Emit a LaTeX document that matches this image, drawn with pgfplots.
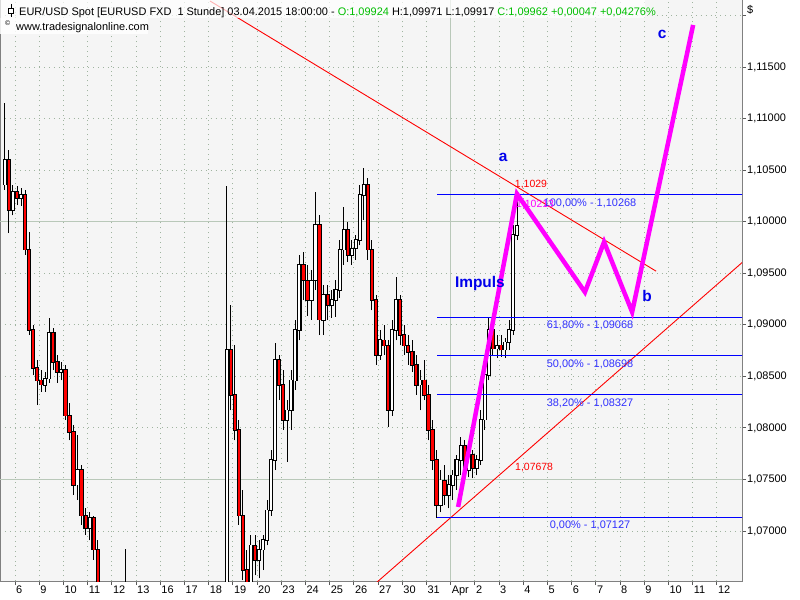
\documentclass[border=0pt]{standalone}
\usepackage{pgfplots}
\pgfplotsset{compat=1.18}
\usepackage{pgfplotstable}
\usepackage{fontspec}
\setmainfont{Liberation Sans}

\definecolor{bg}{RGB}{245,245,245}
\definecolor{gridc}{RGB}{160,180,160}
\definecolor{gridsolid}{RGB}{185,200,185}
\definecolor{fibline}{RGB}{0,0,255}
\definecolor{fibtxt}{RGB}{50,50,255}
\definecolor{wave}{RGB}{255,0,255}
\definecolor{hdrgreen}{RGB}{0,190,0}
\definecolor{lblblue}{RGB}{0,0,235}
\newcommand\fs[1]{\fontsize{#1}{#1}\selectfont}

% 4h candles, x = trading day index (0 = 6 Mar), prices EUR/USD
\pgfplotstableread{
t o h l c
-0.417 1.1036 1.1115 1.1031 1.1060
-0.250 1.1060 1.1070 1.0989 1.1011
-0.083 1.1011 1.1036 1.1006 1.1029
0.083 1.1029 1.1035 1.1016 1.1023
0.250 1.1023 1.1033 1.1015 1.1026
0.417 1.1026 1.1031 1.0968 1.0973
0.583 1.0973 1.0990 1.0890 1.0895
0.750 1.0895 1.0900 1.0851 1.0858
0.917 1.0858 1.0866 1.0822 1.0846
1.083 1.0846 1.0856 1.0835 1.0842
1.250 1.0842 1.0854 1.0835 1.0848
1.417 1.0848 1.0907 1.0844 1.0892
1.583 1.0892 1.0897 1.0856 1.0864
1.750 1.0864 1.0871 1.0844 1.0854
1.917 1.0854 1.0864 1.0846 1.0856
2.083 1.0856 1.0861 1.0808 1.0812
2.250 1.0812 1.0824 1.0788 1.0796
2.417 1.0796 1.0803 1.0735 1.0745
2.583 1.0745 1.0793 1.0730 1.0759
2.750 1.0759 1.0764 1.0706 1.0715
2.917 1.0715 1.0722 1.0696 1.0703
3.083 1.0703 1.0718 1.0691 1.0713
3.250 1.0713 1.0715 1.0672 1.0682
3.417 1.0682 1.0691 1.0633 1.0638
3.583 1.0638 1.0643 1.0594 1.0604
3.750 1.0604 1.0614 1.0555 1.0565
3.917 1.0565 1.0594 1.0546 1.0575
4.083 1.0575 1.0594 1.0536 1.0555
4.250 1.0555 1.0585 1.0536 1.0575
4.417 1.0575 1.0633 1.0565 1.0623
4.583 1.0623 1.0683 1.0614 1.0633
4.750 1.0633 1.0643 1.0604 1.0614
4.917 1.0614 1.0623 1.0594 1.0604
5.083 1.0604 1.0614 1.0575 1.0585
5.250 1.0585 1.0594 1.0546 1.0555
5.417 1.0555 1.0565 1.0517 1.0526
5.583 1.0526 1.0536 1.0468 1.0478
5.750 1.0478 1.0497 1.0458 1.0488
5.917 1.0488 1.0507 1.0478 1.0497
6.083 1.0497 1.0517 1.0488 1.0507
6.250 1.0507 1.0536 1.0502 1.0531
6.417 1.0531 1.0555 1.0526 1.0551
6.583 1.0551 1.0575 1.0536 1.0565
6.750 1.0565 1.0585 1.0546 1.0555
6.917 1.0555 1.0575 1.0546 1.0565
7.083 1.0565 1.0585 1.0555 1.0575
7.250 1.0575 1.0594 1.0546 1.0555
7.417 1.0555 1.0575 1.0536 1.0546
7.583 1.0546 1.0585 1.0536 1.0575
7.750 1.0575 1.0594 1.0565 1.0585
7.917 1.0585 1.0604 1.0575 1.0594
8.083 1.0594 1.0604 1.0575 1.0585
8.250 1.0585 1.0599 1.0570 1.0589
8.417 1.0589 1.0614 1.0575 1.0604
8.583 1.0604 1.0633 1.0594 1.0623
8.750 1.0623 1.1035 1.0614 1.0876
8.917 1.0876 1.0919 1.0817 1.0832
9.083 1.0832 1.0880 1.0788 1.0798
9.250 1.0798 1.0808 1.0706 1.0715
9.417 1.0715 1.0740 1.0652 1.0662
9.583 1.0662 1.0682 1.0633 1.0648
9.750 1.0648 1.0696 1.0643 1.0686
9.917 1.0686 1.0696 1.0657 1.0672
10.083 1.0672 1.0691 1.0654 1.0682
10.250 1.0682 1.0696 1.0662 1.0691
10.417 1.0691 1.0730 1.0686 1.0720
10.583 1.0720 1.0779 1.0715 1.0769
10.750 1.0769 1.0882 1.0759 1.0866
10.917 1.0866 1.0871 1.0827 1.0842
11.083 1.0842 1.0856 1.0798 1.0808
11.250 1.0808 1.0827 1.0767 1.0817
11.417 1.0817 1.0856 1.0798 1.0846
11.583 1.0846 1.0905 1.0837 1.0895
11.750 1.0895 1.0968 1.0885 1.0958
11.917 1.0958 1.0971 1.0924 1.0943
12.083 1.0943 1.0958 1.0909 1.0924
12.250 1.0924 1.0953 1.0905 1.0943
12.417 1.0943 1.1029 1.0934 1.0997
12.583 1.0997 1.1006 1.0890 1.0905
12.750 1.0905 1.0939 1.0890 1.0929
12.917 1.0929 1.0939 1.0905 1.0919
13.083 1.0919 1.0934 1.0907 1.0924
13.250 1.0924 1.0943 1.0908 1.0934
13.417 1.0934 1.0982 1.0926 1.0973
13.583 1.0973 1.1014 1.0958 1.0992
13.750 1.0992 1.1000 1.0961 1.0968
13.917 1.0968 1.0982 1.0958 1.0974
14.083 1.0974 1.0987 1.0963 1.0982
14.250 1.0982 1.1036 1.0977 1.1026
14.417 1.1026 1.1052 1.1002 1.1036
14.583 1.1036 1.1042 1.0963 1.0973
14.750 1.0973 1.0982 1.0914 1.0924
14.917 1.0924 1.0929 1.0861 1.0871
15.083 1.0871 1.0895 1.0866 1.0885
15.250 1.0885 1.0900 1.0871 1.0880
15.417 1.0880 1.0885 1.0801 1.0817
15.583 1.0817 1.0905 1.0812 1.0895
15.750 1.0895 1.0946 1.0885 1.0924
15.917 1.0924 1.0929 1.0880 1.0890
16.083 1.0890 1.0900 1.0871 1.0880
16.250 1.0880 1.0890 1.0861 1.0874
16.417 1.0874 1.0885 1.0854 1.0861
16.583 1.0861 1.0871 1.0832 1.0842
16.750 1.0842 1.0856 1.0817 1.0846
16.917 1.0846 1.0866 1.0827 1.0832
17.083 1.0832 1.0842 1.0788 1.0798
17.250 1.0798 1.0808 1.0759 1.0769
17.417 1.0769 1.0779 1.0713 1.0725
17.583 1.0725 1.0759 1.0718 1.0749
17.750 1.0749 1.0764 1.0725 1.0735
17.917 1.0735 1.0754 1.0722 1.0745
18.083 1.0745 1.0759 1.0730 1.0754
18.250 1.0754 1.0774 1.0740 1.0769
18.417 1.0769 1.0791 1.0754 1.0783
18.583 1.0783 1.0788 1.0749 1.0759
18.750 1.0759 1.0783 1.0752 1.0774
18.917 1.0774 1.0779 1.0751 1.0761
19.083 1.0761 1.0774 1.0754 1.0769
19.250 1.0769 1.0817 1.0764 1.0808
19.417 1.0808 1.0861 1.0798 1.0851
19.583 1.0851 1.0907 1.0846 1.0895
19.750 1.0895 1.0900 1.0871 1.0877
19.917 1.0877 1.0890 1.0868 1.0880
20.083 1.0880 1.0890 1.0869 1.0876
20.250 1.0876 1.0887 1.0868 1.0883
20.417 1.0883 1.0905 1.0876 1.0895
20.583 1.0895 1.0997 1.0890 1.0987
20.750 1.0987 1.1028 1.0982 1.0996
}\candles

\pgfplotsset{candle/.style={draw=none, mark=none, forget plot,
  error bars/y explicit, error bars/error mark=none}}

\begin{document}
\begin{tikzpicture}[x=1bp,y=1bp]
\useasboundingbox (0,0) rectangle (800,-600);
\begin{axis}[
  at={(0,0)}, anchor=north west,
  scale only axis, width=742bp, height=581bp,
  xmin=-0.62, xmax=30.04, ymin=1.06515, ymax=1.1215,
  axis background/.style={fill=bg},
  axis line style={draw=gray, line width=1bp},
  tick align=outside, major tick length=4bp,
  tick style={gray!70!black, line width=0.8bp},
  xtick pos=bottom, ytick pos=right, yticklabel pos=right,
  xtick={0,...,29},
  xticklabels={6,9,10,11,12,13,16,17,18,19,20,23,24,25,26,27,30,31,Apr,2,3,4,5,6,7,8,9,10,11,12},
  xticklabel style={anchor=north west, inner sep=1bp, font=\fs{11}},
  ytick={1.07,1.075,1.08,1.085,1.09,1.095,1.1,1.105,1.11,1.115,1.12},
  yticklabels={{1,07000},{1,07500},{1,08000},{1,08500},{1,09000},{1,09500},{1,10000},{1,10500},{1,11000},{1,11500},{}},
  yticklabel style={anchor=west, inner sep=1bp, font=\fs{11}},
  /pgf/number format/assume math mode=true,
  grid=major,
  major grid style={gridc, line width=0.9bp, dash pattern=on 0.9bp off 4bp},
  extra x ticks={18}, extra x tick labels={},
  extra x tick style={grid=major, major grid style={gridsolid, solid, line width=1bp}, major tick length=0pt},
  extra y ticks={1.075,1.1}, extra y tick labels={},
  extra y tick style={grid=major, major grid style={gridsolid, solid, line width=1bp}, major tick length=0pt},
]
% wicks
\addplot[candle, error bars/y dir=plus,
  error bars/error bar style={draw=black, line width=1bp}]
  table[x=t, y=l, y error plus expr=\thisrow{h}-\thisrow{l}] {\candles};
% body outlines
\addplot[candle, error bars/y dir=both,
  error bars/error bar style={draw=black, line width=4.4bp}]
  table[x=t, y expr=(\thisrow{o}+\thisrow{c})/2, y error expr=abs(\thisrow{c}-\thisrow{o})/2+0.00008] {\candles};
% rising bodies
\addplot[candle, restrict expr to domain={\thisrow{c}-\thisrow{o}}{0:1},
  error bars/y dir=both,
  error bars/error bar style={draw=white, line width=2.2bp}]
  table[x=t, y expr=(\thisrow{o}+\thisrow{c})/2, y error expr=abs(\thisrow{c}-\thisrow{o})/2] {\candles};
% falling bodies
\addplot[candle, restrict expr to domain={\thisrow{c}-\thisrow{o}}{-1:0},
  error bars/y dir=both,
  error bars/error bar style={draw=red, line width=2.2bp}]
  table[x=t, y expr=(\thisrow{o}+\thisrow{c})/2, y error expr=abs(\thisrow{c}-\thisrow{o})/2] {\candles};

% trend lines
\addplot[red, line width=0.9bp] coordinates {(8.06,1.1214) (26.49,1.0952)};
\addplot[red, line width=0.9bp] coordinates {(14.5,1.0641) (31,1.0980)};

% Fibonacci levels
\addplot[fibline, line width=1bp] coordinates {(17.44,1.10268) (31,1.10268)};
\addplot[fibline, line width=1bp] coordinates {(17.44,1.09068) (31,1.09068)};
\addplot[fibline, line width=1bp] coordinates {(17.44,1.08698) (31,1.08698)};
\addplot[fibline, line width=1bp] coordinates {(17.44,1.08327) (31,1.08327)};
\addplot[fibline, line width=1bp] coordinates {(17.44,1.07127) (31,1.07127)};

% wave path
\addplot[wave, line width=4.5bp] coordinates {
  (18.31,1.07233) (20.74,1.1027) (23.55,1.09317) (24.34,1.09803) (25.50,1.09124) (28.02,1.11908)};

\node[fibtxt, font=\fs{11}] at (23.76,1.10181) {100,00\% - 1,10268};
\node[fibtxt, font=\fs{11}] at (23.76,1.08998) {61,80\% - 1,09068};
\node[fibtxt, font=\fs{11}] at (23.76,1.08619) {50,00\% - 1,08698};
\node[fibtxt, font=\fs{11}] at (23.76,1.08241) {38,20\% - 1,08327};
\node[fibtxt, font=\fs{11}] at (23.76,1.07058) {0,00\% - 1,07127};
\node[red, font=\fs{10.5}] at (21.32,1.10365) {1,1029};
\node[wave, font=\fs{10.5}] at (21.49,1.10162) {1,10213};
\node[red, font=\fs{10.5}] at (21.45,1.07620) {1,07678};
\node[lblblue, font=\fs{15.5}\bfseries] at (20.17,1.10627) {a};
\node[lblblue, font=\fs{15.5}\bfseries] at (19.21,1.09405) {Impuls};
\node[lblblue, font=\fs{15.5}\bfseries] at (26.12,1.09279) {b};
\node[lblblue, font=\fs{15.5}\bfseries] at (26.74,1.11820) {c};
\end{axis}

% header
\fill[white, opacity=0.7] (0,0) rectangle (645,-18);
\fill[white, opacity=0.85] (0,-18) rectangle (148,-34);
\draw[black, line width=0.8bp] (11,-4) -- (11,-17);
\draw[black, fill=white, line width=0.8bp] (8.5,-8) rectangle (13.5,-13);
\node[anchor=base west, inner sep=0, font=\fs{11}] at (19,-16) {EUR/USD Spot [EURUSD FXD\ \ 1 Stunde] 03.04.2015 18:00:00 - \textcolor{hdrgreen}{O:1,09924} H:1,09971 L:1,09917 \textcolor{hdrgreen}{C:1,09962 +0,00047 +0,04276\%}};
\node[anchor=base west, inner sep=0, font=\fs{7}] at (5,-26) {©};
\node[anchor=base west, inner sep=0, font=\fs{11}] at (16,-30.5) {www.tradesignalonline.com};
\node[anchor=west, inner sep=0, font=\fs{11}] at (747,-10) {\$};
\end{tikzpicture}
\end{document}
